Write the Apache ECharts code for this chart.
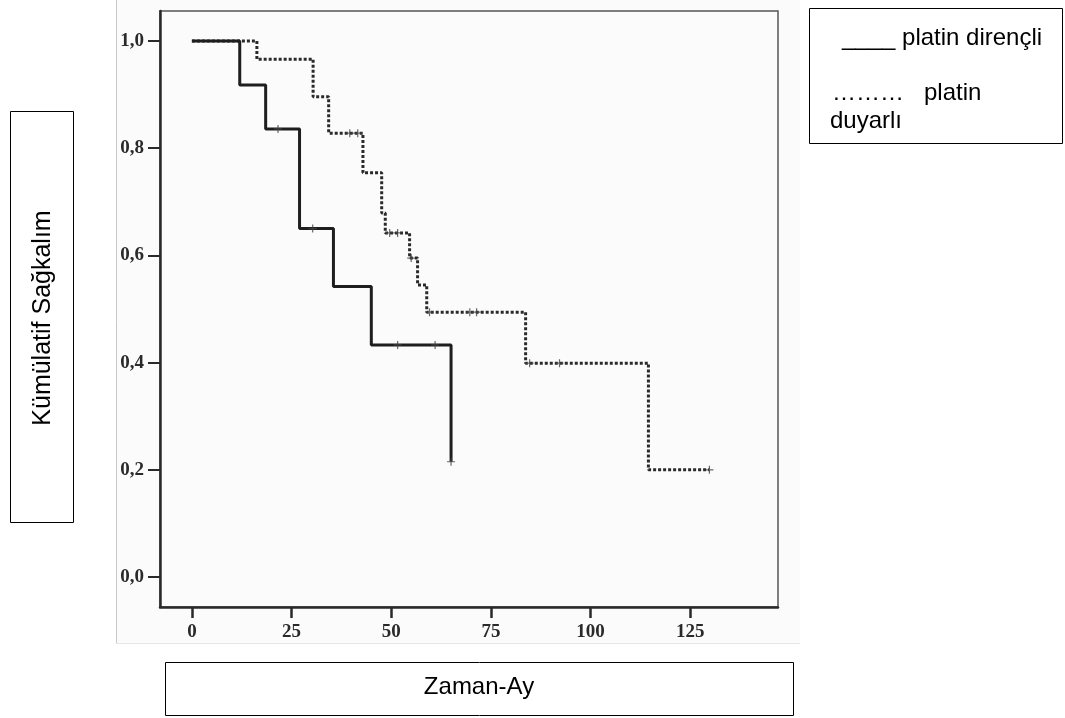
<!DOCTYPE html>
<html>
<head>
<meta charset="utf-8">
<script src="https://cdn.jsdelivr.net/npm/echarts@6/dist/echarts.min.js"></script>
<style>
  html, body { margin: 0; padding: 0; background: #fff; }
</style>
</head>
<body>
<div id="main" style="width: 1065px; height: 718px"></div>
<script type="text/javascript">
// Kaplan-Meier egrileri (ay, sagkalim)
var xTicks = [0, 25, 50, 75, 100, 125];
var yTicks = [0, 0.2, 0.4, 0.6, 0.8, 1.0];

// platin direncli (duz cizgi)
var direncliSteps = [[0, 1.0], [12, 0.918], [18.5, 0.836], [27, 0.650], [35.5, 0.542], [45, 0.433], [65, 0.215]];
var direncliCensor = [[21.6, 0.836], [30.3, 0.650], [51.6, 0.433], [61, 0.433], [65, 0.215]];

// platin duyarli (noktali cizgi)
var duyarliSteps = [[0, 1.0], [16.3, 0.966], [30.4, 0.896], [34.3, 0.828], [42.9, 0.754], [47.6, 0.679],
                    [48.5, 0.642], [54.6, 0.595], [56.6, 0.545], [58.9, 0.494], [83.7, 0.399],
                    [114.5, 0.200], [129.8, 0.200]];
var duyarliCensor = [[39.6, 0.828], [41.6, 0.828], [49.6, 0.642], [51.6, 0.642], [55, 0.595],
                     [59.6, 0.494], [69.7, 0.494], [71.4, 0.494], [84.7, 0.399], [92.2, 0.399], [129.8, 0.200]];

var myChart = echarts.init(document.getElementById('main'));

var plusMark = 'path://M5,0L5,10M0,5L10,5';
var tickFont = { fontFamily: 'Liberation Serif', fontWeight: 'bold', fontSize: 19, color: '#2a2a2a' };

myChart.setOption({
    animation: false,
    grid: {
        left: 160, right: 287, top: 11, bottom: 111,
        show: true, borderColor: '#555', borderWidth: 1.5, backgroundColor: 'transparent'
    },
    xAxis: {
        type: 'value', min: -8, max: 147,
        axisLine: { onZero: false, lineStyle: { color: '#2a2a2a', width: 2.5 } },
        axisTick: { show: true, length: 11, customValues: xTicks, lineStyle: { color: '#2a2a2a', width: 2.5 } },
        axisLabel: Object.assign({ margin: 16, customValues: xTicks }, tickFont),
        splitLine: { show: false }
    },
    yAxis: {
        type: 'value', min: -0.056, max: 1.056,
        axisLine: { show: true, onZero: false, lineStyle: { color: '#2a2a2a', width: 2.5 } },
        axisTick: { show: true, length: 12, customValues: yTicks, lineStyle: { color: '#2a2a2a', width: 2 } },
        axisLabel: Object.assign({
            margin: 16, customValues: yTicks,
            formatter: function (v) { return v.toFixed(1).replace('.', ','); }
        }, tickFont),
        splitLine: { show: false }
    },
    series: [
        {
            name: 'platin duyarlı', type: 'line', step: 'end', data: duyarliSteps,
            showSymbol: false, z: 2,
            lineStyle: { color: '#2a2a2a', width: 3, type: [3, 2] }
        },
        {
            name: 'platin dirençli', type: 'line', step: 'end', data: direncliSteps,
            showSymbol: false, z: 3,
            lineStyle: { color: '#1e1e1e', width: 3, type: 'solid' }
        },
        {
            type: 'scatter', data: duyarliCensor, symbol: plusMark, symbolSize: 8, z: 4,
            itemStyle: { color: 'transparent', borderColor: '#444', borderWidth: 1.2 }
        },
        {
            type: 'scatter', data: direncliCensor, symbol: plusMark, symbolSize: 8, z: 4,
            itemStyle: { color: 'transparent', borderColor: '#444', borderWidth: 1.2 }
        }
    ],
    graphic: [
        // taranmis resim alani
        { type: 'rect', z: -10, shape: { x: 116, y: 0, width: 684, height: 643 },
          style: { fill: '#fbfbfb', stroke: null } },
        { type: 'line', z: -9, shape: { x1: 116.5, y1: 0, x2: 116.5, y2: 643 },
          style: { stroke: '#c8c8c8', lineWidth: 1 } },
        { type: 'line', z: -9, shape: { x1: 116, y1: 643.5, x2: 800, y2: 643.5 },
          style: { stroke: '#e6e6e6', lineWidth: 1 } },

        // y ekseni basligi
        { type: 'rect', shape: { x: 10.5, y: 111.5, width: 63, height: 411 },
          style: { fill: '#fff', stroke: '#000', lineWidth: 1 } },
        { type: 'text', x: 43, y: 318, rotation: Math.PI / 2,
          style: { text: 'Kümülatif Sağkalım', fontFamily: 'Liberation Sans', fontSize: 25,
                   fill: '#000', align: 'center', verticalAlign: 'middle' } },

        // x ekseni basligi
        { type: 'rect', shape: { x: 165.5, y: 662.5, width: 628, height: 53 },
          style: { fill: '#fff', stroke: '#000', lineWidth: 1 } },
        { type: 'text', x: 479, y: 687,
          style: { text: 'Zaman-Ay', fontFamily: 'Liberation Sans', fontSize: 24,
                   fill: '#000', align: 'center', verticalAlign: 'middle' } },

        // aciklama kutusu
        { type: 'rect', shape: { x: 809.5, y: 8.5, width: 253, height: 135 },
          style: { fill: '#fff', stroke: '#000', lineWidth: 1 } },
        { type: 'text', x: 842, y: 38,
          style: { text: '____ platin dirençli', fontFamily: 'Liberation Sans', fontSize: 24,
                   fill: '#000', align: 'left', verticalAlign: 'middle' } },
        { type: 'text', x: 832, y: 93,
          style: { text: '………   platin', fontFamily: 'Liberation Sans', fontSize: 24,
                   fill: '#000', align: 'left', verticalAlign: 'middle' } },
        { type: 'text', x: 830, y: 121,
          style: { text: 'duyarlı', fontFamily: 'Liberation Sans', fontSize: 24,
                   fill: '#000', align: 'left', verticalAlign: 'middle' } }
    ]
});
</script>
</body>
</html>
